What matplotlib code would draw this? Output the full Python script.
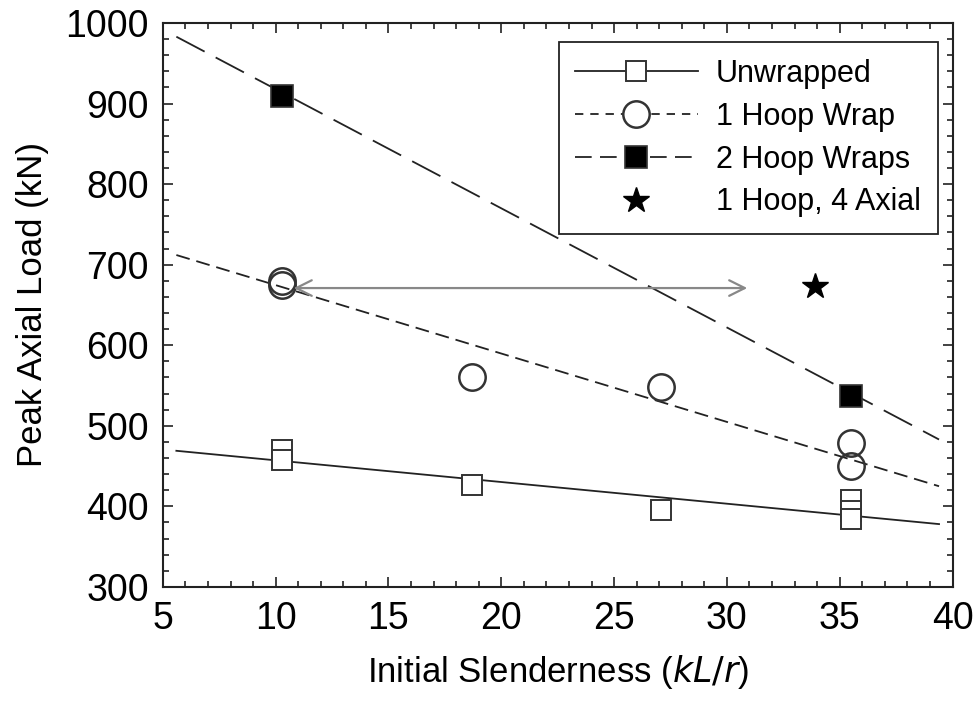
import matplotlib
matplotlib.use("Agg")
import matplotlib.pyplot as plt
from matplotlib.ticker import MultipleLocator

plt.rcParams['font.family'] = ['Liberation Sans', 'DejaVu Sans']
plt.rcParams['lines.scale_dashes'] = False

# test data
unwrap_x = [10.3, 10.3, 18.7, 27.1, 35.5, 35.5, 35.5]
unwrap_y = [470, 457, 426, 396, 408, 394, 384]
hoop1_x = [10.3, 10.3, 18.7, 27.1, 35.5, 35.5]
hoop1_y = [680, 675, 561, 548, 479, 450]
hoop2_x = [10.3, 35.5]
hoop2_y = [910, 537]
axial_x = [33.9]
axial_y = [673]

# trend lines (end points)
fit_x = [5.6, 39.4]
fit_unwrap = [469, 378]
fit_hoop1 = [712, 425]
fit_hoop2 = [983, 483]

arrow_x = [10.8, 30.9]
arrow_y = 671

fig = plt.figure(figsize=(9.75, 7.08), dpi=100)
ax = fig.add_axes([0.167, 0.171, 0.81, 0.7965])

lw = 1.3
ax.plot(fit_x, fit_unwrap, color='#222222', lw=lw)
ax.plot(fit_x, fit_hoop1, color='#222222', lw=lw, dashes=(10, 5))
ax.plot(fit_x, fit_hoop2, color='#222222', lw=lw, dashes=(23, 9))

ax.plot(unwrap_x, unwrap_y, 's', ms=15, mfc='white', mec='#333333', mew=1.4)
ax.plot(hoop1_x, hoop1_y, 'o', ms=19, mfc='none', mec='#333333', mew=1.8)
ax.plot(hoop2_x, hoop2_y, 's', ms=16, mfc='black', mec='#333333', mew=1.2)
ax.plot(axial_x, axial_y, '*', ms=19, color='black')

ax.annotate('', xy=(arrow_x[0], arrow_y), xytext=(arrow_x[1], arrow_y),
            arrowprops=dict(arrowstyle='<->', color='#888888', lw=1.6,
                            mutation_scale=28, shrinkA=0, shrinkB=0))

# legend handles
h1, = ax.plot([], [], '-', color='#222222', lw=lw, marker='s', ms=15, mfc='white', mec='#333333', mew=1.4)
h2, = ax.plot([], [], color='#222222', lw=lw, dashes=(6, 5), marker='o', ms=19, mfc='white', mec='#333333', mew=1.8)
h3, = ax.plot([], [], color='#222222', lw=lw, dashes=(12, 6), marker='s', ms=16, mfc='black', mec='#333333', mew=1.2)
h4, = ax.plot([], [], '*', ms=19, color='black', lw=0)
leg = ax.legend([h1, h2, h3, h4], ['Unwrapped', '1 Hoop Wrap', '2 Hoop Wraps', '1 Hoop, 4 Axial'],
                loc='upper right', bbox_to_anchor=(0.981, 0.966), fontsize=22,
                handlelength=4.0, handletextpad=0.6, labelspacing=0.42,
                borderpad=0.55, borderaxespad=0, fancybox=False, framealpha=1)
leg.get_frame().set_edgecolor('#222222')
leg.get_frame().set_linewidth(1.3)

ax.set_xlim(5, 40)
ax.set_ylim(300, 1000)
ax.xaxis.set_major_locator(MultipleLocator(5))
ax.xaxis.set_minor_locator(MultipleLocator(1))
ax.yaxis.set_major_locator(MultipleLocator(100))
ax.yaxis.set_minor_locator(MultipleLocator(20))
ax.tick_params(which='both', direction='in', top=True, right=True, width=1.2, color='#222222')
ax.tick_params(which='major', length=7, labelsize=27, pad=10)
ax.tick_params(which='minor', length=4)
for s in ax.spines.values():
    s.set_linewidth(1.5)
    s.set_color('#222222')

ax.set_xlabel('Initial Slenderness ($\\it{kL/r}$)', fontsize=25, labelpad=12)
ax.set_ylabel('Peak Axial Load (kN)', fontsize=25, labelpad=12)

fig.savefig('out.png', dpi=100)
